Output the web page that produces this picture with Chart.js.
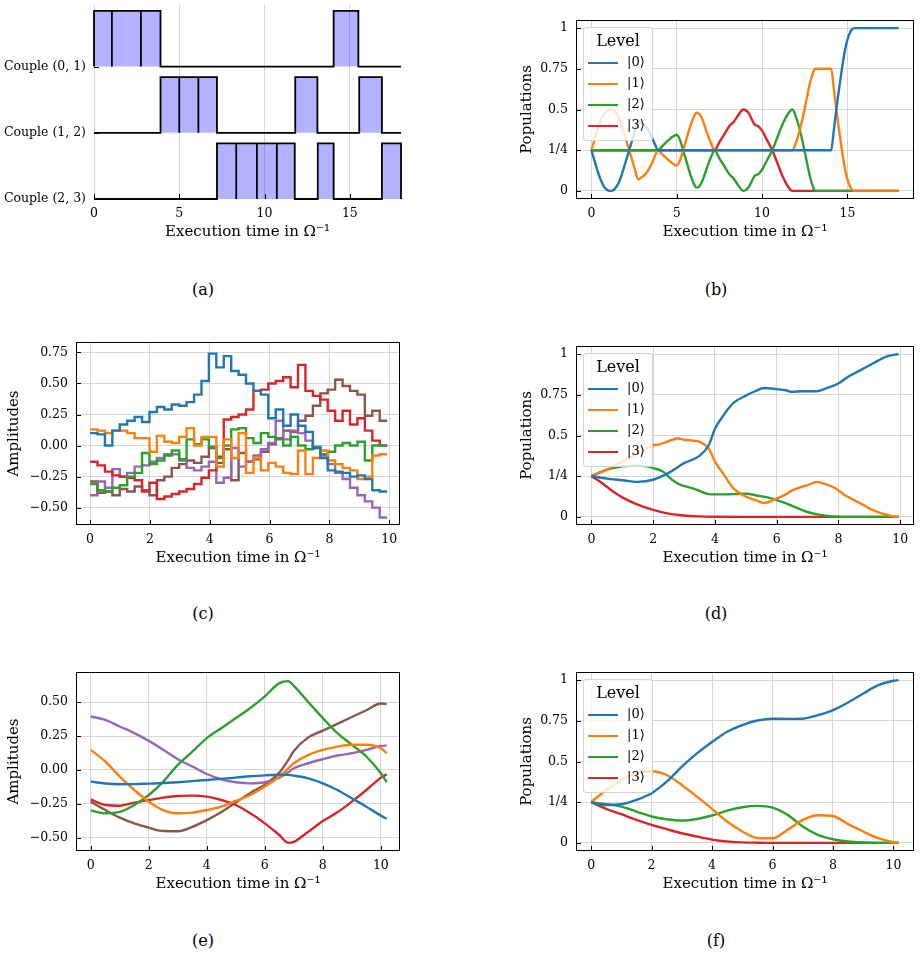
<!DOCTYPE html>
<html>
<head>
<meta charset="utf-8">
<script src="https://cdn.jsdelivr.net/npm/chart.js@4.4.0/dist/chart.umd.min.js"></script>
<style>
  body { margin: 0; background: #fff; width: 921px; height: 956px; position: relative; overflow: hidden; font-family: 'DejaVu Serif', serif; color: #000; }
  canvas { position: absolute; }
  .cap { position: absolute; font-size: 16px; transform: translate(-50%, -50%); }
  .legend { position: absolute; width: 70px; height: 114px; box-sizing: border-box; border: 1px solid #d4d4d4; border-radius: 3px; background: rgba(255,255,255,0.8); }
  .legend .ttl { position: absolute; left: 0; width: 100%; top: 3px; text-align: center; font-size: 16px; }
  .legend .row { position: absolute; left: 4px; height: 16px; }
  .legend .sw { position: absolute; left: 0; top: 7px; width: 30px; height: 2.4px; }
  .legend .lb { position: absolute; left: 39px; top: -1px; font-size: 13px; white-space: nowrap; }
</style>
</head>
<body>
<canvas id="pa" width="415" height="250" style="left:0;top:0"></canvas>
<canvas id="pb" width="411" height="250" style="left:510px;top:0"></canvas>
<canvas id="pc" width="415" height="250" style="left:0;top:326px"></canvas>
<canvas id="pd" width="411" height="250" style="left:510px;top:326px"></canvas>
<canvas id="pe" width="415" height="250" style="left:0;top:652px"></canvas>
<canvas id="pf" width="411" height="250" style="left:510px;top:652px"></canvas>

<div class="cap" style="left:203px;top:289px">(a)</div>
<div class="cap" style="left:716px;top:289px">(b)</div>
<div class="cap" style="left:203px;top:613px">(c)</div>
<div class="cap" style="left:716px;top:613px">(d)</div>
<div class="cap" style="left:203px;top:940px">(e)</div>
<div class="cap" style="left:716px;top:940px">(f)</div>

<div class="legend" id="lgb" style="left:583px;top:27px"></div>
<div class="legend" id="lgd" style="left:583px;top:353px"></div>
<div class="legend" id="lgf" style="left:583px;top:679px"></div>

<script>
// --- shared labels / colours
const xTitle = 'Execution time in \u03A9\u207B\u00B9';
const levelLabels = ['|0\u27E9', '|1\u27E9', '|2\u27E9', '|3\u27E9'];
const colors = ['#1f77b4', '#ff7f0e', '#2ca02c', '#d62728', '#9467bd', '#8c564b'];
const gridColor = '#d6d6d6';
const lw = 2.4;

// --- (a) pulse sequence: [start, end] of each pulse per couple
const coupleLabels = ['Couple (0, 1)', 'Couple (1, 2)', 'Couple (2, 3)'];
const pulses01 = [[0, 1.05], [1.05, 2.75], [2.75, 3.9], [14.05, 15.5]];
const pulses12 = [[3.9, 5.0], [5.0, 6.12], [6.12, 7.21], [11.8, 13.1], [15.55, 16.88]];
const pulses23 = [[7.21, 8.34], [8.34, 9.55], [9.55, 10.72], [10.72, 11.77], [13.12, 14.05], [16.88, 18]];
const ticksA = [0, 5, 10, 15];

// --- (b) populations, [time, population]
const popB0 = [[0,0.25],[0.2,0.18],[0.4,0.11],[0.6,0.055],[0.8,0.018],[1.0,0.002],[1.15,0],[1.3,0.005],[1.5,0.03],[1.7,0.075],[1.9,0.14],[2.1,0.21],[2.3,0.28],[2.5,0.35],[2.75,0.43],[2.95,0.415],[3.15,0.4],[3.35,0.37],[3.55,0.33],[3.75,0.28],[3.9,0.25],[14.05,0.25],[14.2,0.37],[14.35,0.5],[14.5,0.62],[14.65,0.73],[14.8,0.83],[14.95,0.91],[15.1,0.96],[15.25,0.99],[15.4,1],[18,1]];
const popB1 = [[0,0.25],[0.2,0.32],[0.4,0.39],[0.6,0.445],[0.8,0.48],[1.0,0.497],[1.15,0.5],[1.3,0.495],[1.5,0.47],[1.7,0.425],[1.9,0.36],[2.1,0.29],[2.3,0.22],[2.5,0.15],[2.75,0.07],[2.95,0.085],[3.15,0.1],[3.35,0.13],[3.55,0.17],[3.75,0.22],[3.9,0.25],[4.2,0.22],[4.5,0.19],[4.8,0.165],[5.0,0.155],[5.2,0.19],[5.4,0.26],[5.6,0.33],[5.8,0.4],[6.0,0.455],[6.15,0.48],[6.3,0.475],[6.5,0.44],[6.7,0.38],[6.9,0.32],[7.1,0.27],[7.21,0.25],[11.77,0.25],[12.0,0.3],[12.2,0.37],[12.4,0.46],[12.6,0.56],[12.8,0.66],[13.0,0.73],[13.1,0.75],[14.05,0.75],[14.2,0.63],[14.35,0.5],[14.5,0.38],[14.65,0.27],[14.8,0.17],[14.95,0.09],[15.1,0.04],[15.25,0.01],[15.4,0],[18,0]];
const popB2 = [[0,0.25],[3.9,0.25],[4.2,0.28],[4.5,0.31],[4.8,0.335],[5.0,0.345],[5.2,0.31],[5.4,0.24],[5.6,0.17],[5.8,0.1],[6.0,0.045],[6.15,0.02],[6.3,0.025],[6.5,0.06],[6.7,0.12],[6.9,0.18],[7.1,0.23],[7.21,0.25],[7.5,0.2],[7.8,0.15],[8.1,0.1],[8.34,0.075],[8.6,0.035],[8.9,0],[9.2,0.02],[9.55,0.09],[9.8,0.105],[10.0,0.13],[10.3,0.19],[10.6,0.25],[10.9,0.33],[11.2,0.41],[11.5,0.47],[11.77,0.5],[12.0,0.45],[12.2,0.38],[12.4,0.29],[12.6,0.19],[12.8,0.09],[13.0,0.02],[13.1,0],[18,0]];
const popB3 = [[0,0.25],[7.21,0.25],[7.5,0.3],[7.8,0.35],[8.1,0.4],[8.34,0.425],[8.6,0.465],[8.9,0.5],[9.2,0.48],[9.55,0.41],[9.8,0.395],[10.0,0.37],[10.3,0.31],[10.6,0.25],[10.9,0.17],[11.2,0.09],[11.5,0.03],[11.77,0],[18,0]];

const popTicks = [0, 0.25, 0.5, 0.75, 1];
const popTickLabels = ['0', '1/4', '0.5', '0.75', '1'];

// --- (c) piecewise-constant amplitudes
const cTimes = [0,0.248,0.497,0.745,0.993,1.241,1.49,1.738,1.986,2.234,2.483,2.731,2.979,3.227,3.476,3.724,3.972,4.22,4.469,4.717,4.965,5.213,5.462,5.71,5.958,6.206,6.455,6.703,6.951,7.199,7.448,7.696,7.944,8.192,8.441,8.689,8.937,9.185,9.434,9.682,9.93];
const cBlue   = [0.10,0.09,0.00,0.12,0.17,0.20,0.23,0.19,0.27,0.31,0.29,0.33,0.32,0.35,0.41,0.52,0.74,0.63,0.72,0.60,0.57,0.50,0.44,0.41,0.22,0.29,0.16,0.25,0.16,0.11,-0.02,-0.10,-0.20,-0.21,-0.22,-0.25,-0.24,-0.27,-0.36,-0.37];
const cOrange = [0.13,0.12,0.10,0.12,0.12,0.10,0.06,0.06,-0.05,0.08,0.03,0.02,0.07,0.14,0.00,0.07,0.07,-0.17,0.05,-0.10,0.10,-0.22,-0.10,-0.20,-0.14,-0.17,-0.22,-0.23,-0.04,-0.23,-0.10,-0.04,-0.12,-0.15,-0.18,-0.20,-0.27,-0.25,-0.08,-0.07];
const cGreen  = [-0.31,-0.36,-0.37,-0.34,-0.32,-0.25,-0.22,-0.06,-0.15,-0.12,-0.08,-0.04,-0.11,0.05,0.01,0.05,-0.01,-0.10,0.00,0.13,0.14,0.06,0.02,0.10,0.07,0.05,0.00,0.07,0.00,-0.03,-0.01,-0.07,-0.05,0.00,0.02,0.00,0.03,-0.12,0.00,0.00];
const cRed    = [-0.13,-0.16,-0.21,-0.24,-0.25,-0.26,-0.28,-0.37,-0.30,-0.43,-0.41,-0.39,-0.37,-0.35,-0.31,-0.26,-0.20,-0.09,0.21,0.23,0.25,0.29,0.44,0.45,0.50,0.52,0.55,0.47,0.65,0.44,0.40,0.37,0.28,0.20,0.28,0.17,0.22,0.12,0.04,0.00];
const cPurple = [-0.40,-0.29,-0.34,-0.19,-0.25,-0.22,-0.17,-0.16,-0.13,-0.10,-0.07,-0.07,-0.12,-0.18,-0.20,-0.17,-0.13,-0.30,-0.26,-0.02,-0.17,-0.13,-0.08,-0.03,0.02,0.20,0.05,0.12,0.10,0.04,-0.02,-0.08,-0.15,-0.22,-0.27,-0.34,-0.40,-0.45,-0.50,-0.58];
const cBrown  = [-0.29,-0.38,-0.37,-0.40,-0.35,-0.37,-0.33,-0.36,-0.40,-0.28,-0.25,-0.18,-0.15,-0.12,-0.14,-0.09,-0.02,-0.14,-0.03,-0.28,-0.06,-0.13,-0.11,-0.05,0.01,0.06,0.12,0.11,0.20,0.24,0.32,0.42,0.45,0.53,0.48,0.44,0.41,0.24,0.28,0.20];
const ampTicksC = [-0.5, -0.25, 0, 0.25, 0.5, 0.75];
const ampLabelsC = ['\u22120.50', '\u22120.25', '0.00', '0.25', '0.50', '0.75'];
const timeTicks10 = [0, 2, 4, 6, 8, 10];

// --- (d) populations
const popD0 = [[0,0.25],[0.5,0.235],[1.0,0.225],[1.5,0.215],[2.0,0.228],[2.5,0.27],[3.0,0.33],[3.5,0.375],[3.8,0.44],[4.0,0.54],[4.3,0.63],[4.6,0.7],[5.0,0.745],[5.3,0.772],[5.6,0.792],[6.0,0.785],[6.3,0.778],[6.5,0.768],[6.8,0.772],[7.3,0.772],[7.6,0.79],[8.0,0.82],[8.3,0.86],[8.6,0.89],[9.0,0.93],[9.3,0.962],[9.6,0.988],[9.95,1.0]];
const popD1 = [[0,0.25],[0.5,0.29],[1.0,0.34],[1.5,0.39],[2.0,0.44],[2.2,0.445],[2.5,0.466],[2.8,0.483],[3.0,0.474],[3.3,0.468],[3.5,0.462],[3.8,0.42],[4.0,0.34],[4.3,0.258],[4.6,0.176],[5.0,0.125],[5.3,0.104],[5.6,0.085],[6.0,0.113],[6.3,0.138],[6.5,0.163],[7.0,0.195],[7.3,0.215],[7.6,0.2],[7.9,0.176],[8.2,0.135],[8.5,0.104],[8.8,0.074],[9.1,0.043],[9.4,0.022],[9.7,0.006],[9.95,0]];
const popD2 = [[0,0.25],[0.5,0.29],[1.0,0.31],[1.5,0.315],[1.8,0.31],[2.0,0.3],[2.3,0.28],[2.6,0.23],[2.9,0.195],[3.2,0.18],[3.5,0.16],[3.8,0.14],[4.2,0.138],[4.6,0.14],[5.0,0.142],[5.4,0.13],[5.8,0.115],[6.2,0.09],[6.6,0.06],[7.0,0.03],[7.4,0.012],[7.8,0.003],[8.2,0],[9.95,0]];
const popD3 = [[0,0.25],[0.25,0.22],[0.5,0.185],[0.75,0.15],[1.0,0.12],[1.5,0.075],[2.0,0.043],[2.5,0.02],[3.0,0.008],[3.5,0.003],[4.0,0.001],[5.0,0],[9.95,0]];

// --- (e) smooth amplitudes
const eTimes  = [0,0.5,1,1.5,2,2.5,3,3.5,4,4.5,5,5.5,6,6.5,6.8,7,7.5,8,8.5,9,9.5,10,10.2];
const eBlue   = [-0.086,-0.1,-0.106,-0.105,-0.101,-0.097,-0.091,-0.083,-0.074,-0.066,-0.057,-0.047,-0.04,-0.036,-0.037,-0.042,-0.062,-0.099,-0.148,-0.209,-0.271,-0.337,-0.36];
const eOrange = [0.148,0.062,-0.049,-0.148,-0.234,-0.296,-0.32,-0.315,-0.296,-0.271,-0.229,-0.185,-0.123,-0.05,0.01,0.049,0.111,0.148,0.172,0.185,0.185,0.16,0.123];
const eGreen  = [-0.298,-0.32,-0.31,-0.259,-0.185,-0.086,0.037,0.135,0.234,0.308,0.382,0.456,0.542,0.64,0.655,0.62,0.5,0.382,0.271,0.185,0.099,-0.025,-0.091];
const eRed    = [-0.217,-0.259,-0.264,-0.241,-0.222,-0.204,-0.192,-0.19,-0.197,-0.222,-0.259,-0.32,-0.394,-0.48,-0.537,-0.53,-0.456,-0.377,-0.313,-0.234,-0.148,-0.057,-0.032];
const ePurple = [0.394,0.369,0.32,0.271,0.214,0.148,0.079,0.025,-0.03,-0.069,-0.091,-0.099,-0.091,-0.057,-0.02,0.012,0.049,0.079,0.106,0.123,0.148,0.177,0.18];
const eBrown  = [-0.234,-0.296,-0.352,-0.394,-0.426,-0.451,-0.452,-0.42,-0.37,-0.31,-0.24,-0.17,-0.11,-0.02,0.07,0.14,0.24,0.29,0.34,0.39,0.44,0.49,0.485];
const ampTicksE = [-0.5, -0.25, 0, 0.25, 0.5];
const ampLabelsE = ['\u22120.50', '\u22120.25', '0.00', '0.25', '0.50'];

// --- (f) populations
const fTimes = [0,0.5,1,1.5,2,2.5,3,3.5,4,4.5,5,5.5,6,6.5,7,7.5,8,8.5,9,9.5,10,10.17];
const popF0 = [0.25,0.233,0.237,0.264,0.305,0.376,0.468,0.55,0.62,0.683,0.724,0.752,0.763,0.762,0.763,0.785,0.816,0.863,0.918,0.969,0.996,1.0];
const popF1 = [0.25,0.325,0.385,0.43,0.44,0.417,0.356,0.284,0.209,0.131,0.07,0.03,0.028,0.08,0.141,0.17,0.165,0.115,0.07,0.029,0.004,0];
const popF2 = [0.25,0.237,0.223,0.192,0.162,0.145,0.137,0.147,0.168,0.198,0.219,0.227,0.217,0.172,0.1,0.049,0.022,0.008,0.002,0,0,0];
const popF3 = [0.25,0.209,0.176,0.141,0.11,0.084,0.059,0.039,0.02,0.008,0.003,0.001,0,0,0,0,0,0,0,0,0,0];

// inward tick marks + box frame like the matplotlib style
const frameTicks = {
  id: 'frameTicks',
  afterDraw(chart, args, opts) {
    const { ctx, chartArea: a } = chart;
    const xs = chart.scales.x, ys = chart.scales.y;
    ctx.save();
    ctx.strokeStyle = '#000';
    ctx.lineWidth = 1;
    if (opts.frame) {
      ctx.strokeRect(Math.round(a.left) + 0.5, Math.round(a.top) + 0.5, Math.round(a.right - a.left) - 1, Math.round(a.bottom - a.top) - 1);
    }
    ctx.beginPath();
    xs.ticks.forEach(t => {
      const p = Math.round(xs.getPixelForValue(t.value)) + 0.5;
      ctx.moveTo(p, a.bottom);
      ctx.lineTo(p, a.bottom - opts.len);
    });
    ys.ticks.forEach(t => {
      const p = Math.round(ys.getPixelForValue(t.value)) + 0.5;
      ctx.moveTo(a.left, p);
      ctx.lineTo(a.left + opts.len, p);
    });
    ctx.stroke();
    ctx.restore();
  }
};
Chart.register(frameTicks);
Chart.defaults.font.family = "'DejaVu Serif', serif";
Chart.defaults.color = '#000';

function panel(id, datasets, o) {
  return new Chart(document.getElementById(id), {
    type: 'line',
    data: { datasets },
    options: {
      responsive: false,
      animation: false,
      events: [],
      layout: { autoPadding: false, padding: { left: 0, top: o.top, right: o.right, bottom: 0 } },
      plugins: { legend: { display: false }, tooltip: { enabled: false }, frameTicks: { frame: o.frame, len: 5 } },
      elements: { point: { radius: 0 }, line: { borderWidth: lw } },
      scales: {
        x: {
          type: 'linear', min: o.xMin, max: o.xMax,
          afterBuildTicks: s => { s.ticks = o.xTicks.map(v => ({ value: v })); },
          afterFit: s => { s.height = 51; s.paddingLeft = 0; s.paddingRight = 0; },
          ticks: { padding: 7, font: { size: 12.5 }, maxRotation: 0, autoSkip: false, callback: v => String(v) },
          grid: { color: gridColor, drawTicks: false },
          border: { display: false },
          title: { display: true, text: xTitle, font: { size: 15 }, padding: { top: 0, bottom: 9 } }
        },
        y: {
          type: 'linear', min: o.yMin, max: o.yMax,
          afterBuildTicks: s => { s.ticks = o.yTicks.map(v => ({ value: v })); },
          afterFit: s => { s.width = o.yWidth; s.paddingTop = 0; s.paddingBottom = 0; },
          ticks: { padding: 8, font: { size: 12.5 }, autoSkip: false, callback: (v, i) => o.yLabels[i] },
          grid: { display: o.yGrid, color: gridColor, drawTicks: false },
          border: { display: false },
          title: { display: !!o.yTitle, text: o.yTitle || '', font: { size: 15 }, padding: { top: o.yTitlePad || 0, bottom: 0 } }
        }
      }
    }
  });
}

const pairs = arr => arr.map(([x, y]) => ({ x, y }));
const zip = (xs, ys) => xs.map((x, i) => ({ x, y: ys[i] }));
const curve = (data, c) => ({ data, borderColor: c, borderWidth: lw, fill: false, cubicInterpolationMode: 'monotone', clip: 4 });

// (a)
const pulseHeight = 0.84;
function pulseTrain(list, base) {
  const pts = [{ x: 0, y: base }];
  list.forEach(([s, e]) => {
    pts.push({ x: s, y: base }, { x: s, y: base + pulseHeight }, { x: e, y: base + pulseHeight }, { x: e, y: base });
  });
  pts.push({ x: 18, y: base });
  return pts;
}
const pulseSets = [pulses01, pulses12, pulses23];
panel('pa', pulseSets.map((p, r) => ({
  data: pulseTrain(p, 2 - r), borderColor: '#000', borderWidth: 1.8,
  backgroundColor: 'rgba(0,0,255,0.3)', fill: { value: 2 - r }, tension: 0, clip: 4
})), {
  top: 5, right: 14, frame: false, yWidth: 94, yGrid: false,
  xMin: 0, xMax: 18, xTicks: ticksA,
  yMin: 0, yMax: 2.93, yTicks: [0, 1, 2], yLabels: coupleLabels.slice().reverse()
});

// (b)
panel('pb', [popB0, popB1, popB2, popB3].map((p, i) => curve(pairs(p), colors[i])), {
  top: 20, right: 7, frame: true, yWidth: 66, yGrid: true, yTitle: 'Populations', yTitlePad: 8,
  xMin: -0.9, xMax: 18.9, xTicks: ticksA,
  yMin: -0.05, yMax: 1.05, yTicks: popTicks, yLabels: popTickLabels
});

// (c)
const stairs = vals => cTimes.map((t, i) => ({ x: t, y: vals[Math.min(i, vals.length - 1)] }));
panel('pc', [cBlue, cOrange, cGreen, cRed, cPurple, cBrown].map((v, i) => ({
  data: stairs(v), borderColor: colors[i], borderWidth: lw, fill: false, stepped: 'before', clip: 4
})), {
  top: 16, right: 15, frame: true, yWidth: 76, yGrid: true, yTitle: 'Amplitudes', yTitlePad: 5,
  xMin: -0.47, xMax: 10.36, xTicks: timeTicks10,
  yMin: -0.64, yMax: 0.834, yTicks: ampTicksC, yLabels: ampLabelsC
});

// (d)
panel('pd', [popD0, popD1, popD2, popD3].map((p, i) => curve(pairs(p), colors[i])), {
  top: 20, right: 7, frame: true, yWidth: 66, yGrid: true, yTitle: 'Populations', yTitlePad: 8,
  xMin: -0.4975, xMax: 10.4475, xTicks: timeTicks10,
  yMin: -0.05, yMax: 1.05, yTicks: popTicks, yLabels: popTickLabels
});

// (e)
panel('pe', [eBlue, eOrange, eGreen, eRed, ePurple, eBrown].map((v, i) => curve(zip(eTimes, v), colors[i])), {
  top: 20, right: 15, frame: true, yWidth: 76, yGrid: true, yTitle: 'Amplitudes', yTitlePad: 5,
  xMin: -0.51, xMax: 10.66, xTicks: timeTicks10,
  yMin: -0.598, yMax: 0.722, yTicks: ampTicksE, yLabels: ampLabelsE
});

// (f)
panel('pf', [popF0, popF1, popF2, popF3].map((v, i) => curve(zip(fTimes, v), colors[i])), {
  top: 20, right: 7, frame: true, yWidth: 66, yGrid: true, yTitle: 'Populations', yTitlePad: 8,
  xMin: -0.5, xMax: 10.68, xTicks: timeTicks10,
  yMin: -0.05, yMax: 1.05, yTicks: popTicks, yLabels: popTickLabels
});

// legends (Level)
['lgb', 'lgd', 'lgf'].forEach(id => {
  const box = document.getElementById(id);
  let html = '<div class="ttl">Level</div>';
  levelLabels.forEach((lab, i) => {
    html += `<div class="row" style="top:${27 + i * 21}px"><div class="sw" style="background:${colors[i]}"></div><div class="lb">${lab}</div></div>`;
  });
  box.innerHTML = html;
});
</script>
</body>
</html>
